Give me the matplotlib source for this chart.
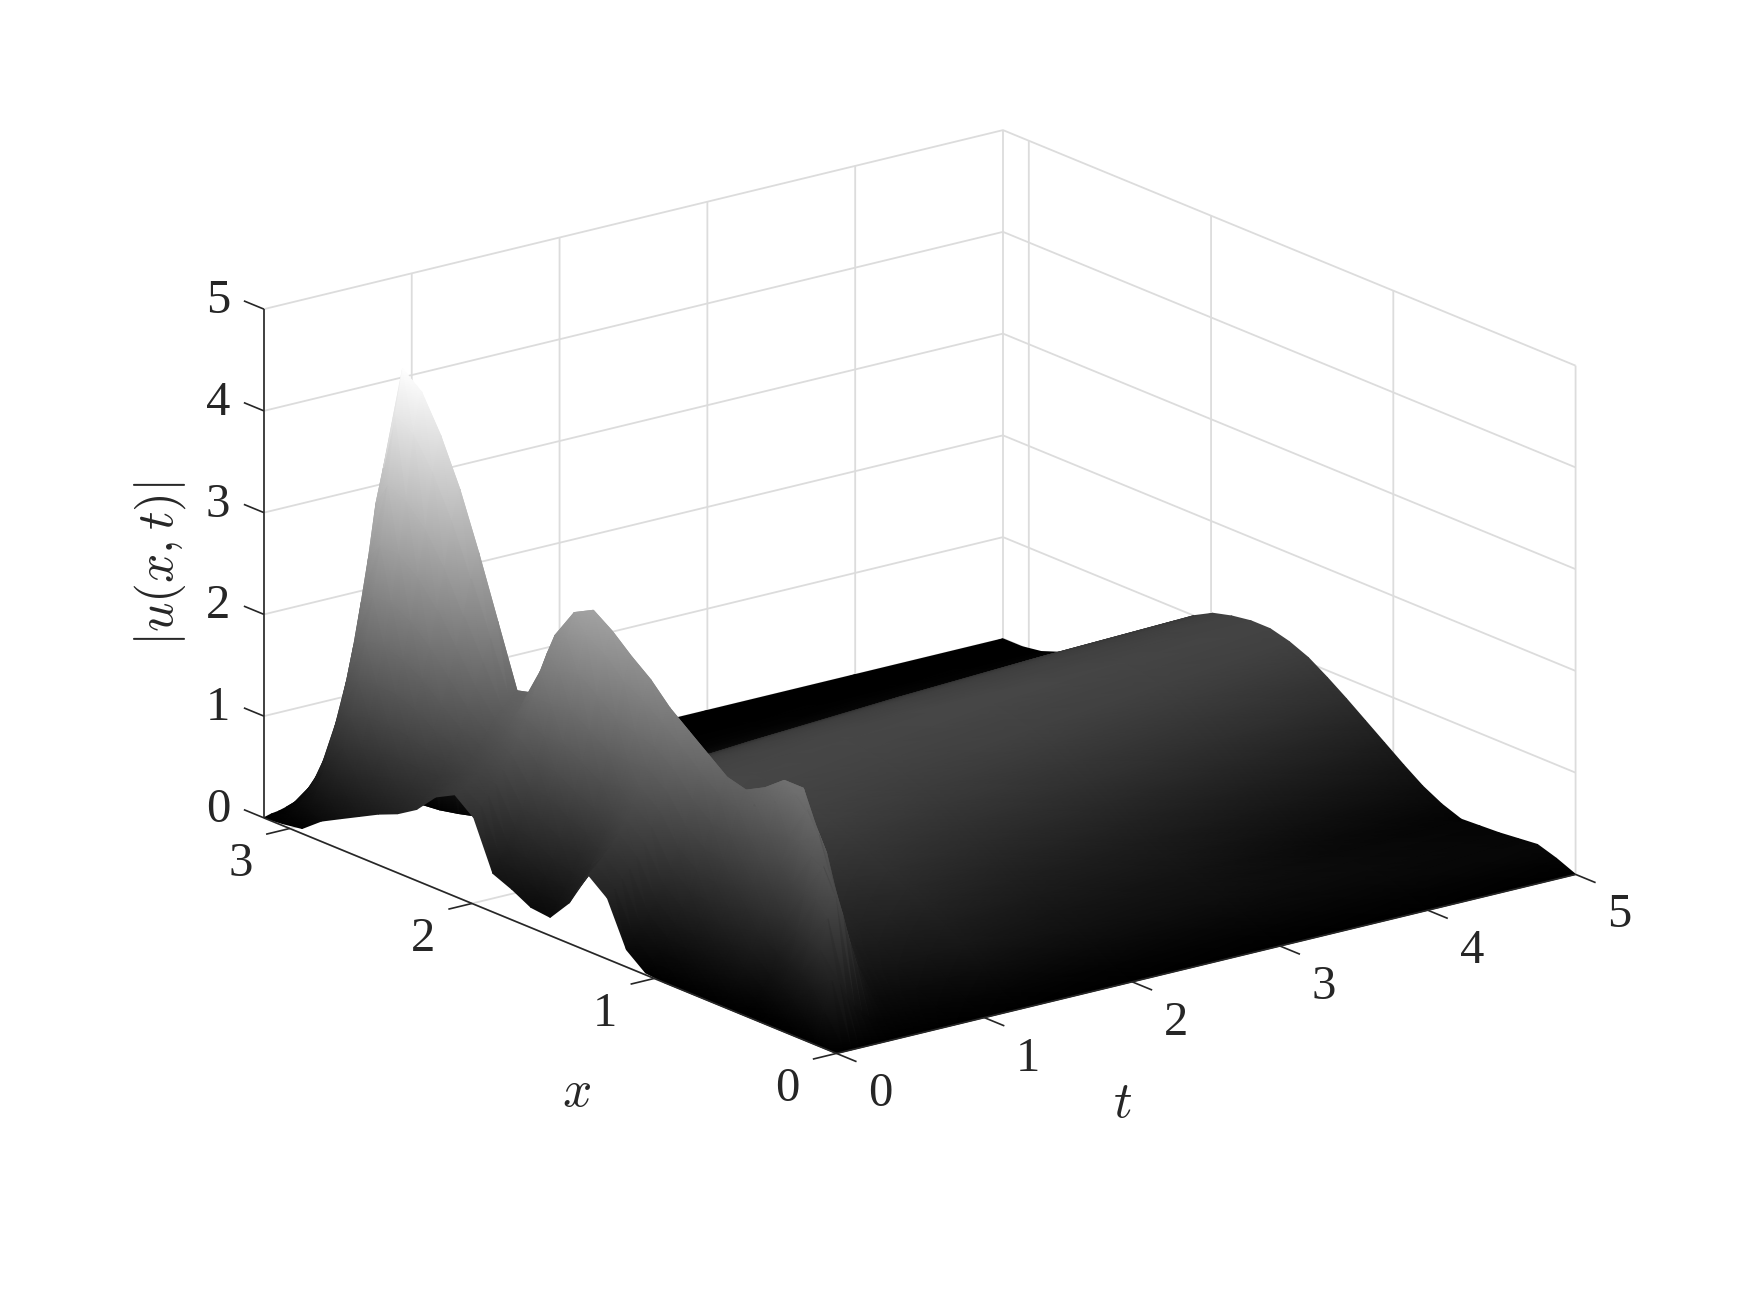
import numpy as np
import matplotlib
matplotlib.use("Agg")
import matplotlib.pyplot as plt
from mpl_toolkits.mplot3d import proj3d

plt.rcParams['font.family'] = ['Liberation Serif', 'DejaVu Serif']
plt.rcParams['mathtext.fontset'] = 'cm'

x_vals = [0, .105, .209, .314, .419, .524, .628, .733, .838, .942, 1.047, 1.152, 1.257, 1.361, 1.466, 1.571,
          1.676, 1.78, 1.885, 1.99, 2.094, 2.199, 2.304, 2.409, 2.513, 2.618, 2.723, 2.827, 2.932, 3.037, 3.142]
t_vals = [0, .05, .1, .15, .2, .25, .3, .35, .4, .45, .5, .55, .6, .65, .7, .8, 1, 1.25, 2, 3, 4, 5]

# |u|, one row per t value, one column per x value
u_rows = [
    [0, 0, 0, 0, 0, 0, 0, 0, 0, 0, .02, .17, .6, .75, .4, .18, .2, .3, .38, .85, 1.0, .9, .7, .58, .5, .4, .3, .2, .05, .02, 0],
    [0, .3, .15, .08, .05, .03, .1, .1, .09, .09, .11, .26, .67, .82, .5, .3, .33, .43, .5, .94, 1.05, .95, .79, .7, .65, .58, .5, .41, .22, .09, .02],
    [0, .6, .45, .25, .15, .1, .2, .2, .18, .17, .19, .34, .75, .9, .6, .42, .46, .56, .62, 1.02, 1.1, 1.0, .87, .82, .8, .76, .7, .62, .39, .16, .03],
    [0, .55, .8, .5, .3, .2, .32, .31, .29, .27, .3, .45, .83, .98, .72, .56, .61, .72, .77, 1.12, 1.16, 1.06, .97, .96, .98, .97, .93, .86, .59, .24, .05],
    [0, .4, 1.1, .8, .5, .3, .46, .45, .41, .39, .42, .57, .93, 1.08, .86, .73, .79, .9, .94, 1.24, 1.23, 1.13, 1.09, 1.13, 1.19, 1.22, 1.21, 1.15, .82, .34, .07],
    [0, .3, 1.3, 1.2, .8, .5, .62, .6, .56, .53, .56, .71, 1.05, 1.2, 1.02, .91, .99, 1.11, 1.13, 1.38, 1.31, 1.21, 1.23, 1.31, 1.43, 1.5, 1.52, 1.49, 1.09, .45, .09],
    [0, .22, 1.1, 1.5, 1.15, .8, .8, .78, .72, .68, .71, .86, 1.18, 1.33, 1.2, 1.13, 1.22, 1.34, 1.35, 1.53, 1.4, 1.3, 1.38, 1.53, 1.7, 1.82, 1.88, 1.86, 1.39, .57, .12],
    [0, .15, .8, 1.4, 1.5, 1.15, 1.0, .98, .9, .85, .89, 1.04, 1.33, 1.48, 1.4, 1.37, 1.48, 1.6, 1.59, 1.7, 1.5, 1.4, 1.55, 1.77, 2.0, 2.18, 2.28, 2.28, 1.73, .71, .15],
    [0, .12, .55, 1.1, 1.7, 1.55, 1.24, 1.2, 1.12, 1.05, 1.09, 1.24, 1.5, 1.65, 1.64, 1.65, 1.78, 1.91, 1.88, 1.9, 1.62, 1.52, 1.75, 2.05, 2.36, 2.6, 2.75, 2.77, 2.13, .88, .19],
    [0, .1, .35, .8, 1.5, 1.85, 1.5, 1.46, 1.35, 1.28, 1.32, 1.47, 1.69, 1.84, 1.9, 1.96, 2.11, 2.25, 2.2, 2.13, 1.72, 1.6, 1.98, 2.36, 2.75, 3.06, 3.26, 3.35, 2.56, 1.06, .23],
    [0, .1, .25, .55, 1.1, 1.7, 1.9, 1.75, 1.62, 1.53, 1.58, 1.73, 1.9, 2.06, 2.2, 2.31, 2.5, 2.62, 2.52, 2.3, 1.72, 1.67, 2.2, 2.71, 3.2, 3.6, 3.9, 4.02, 3.07, 1.26, .27],
    [0, .1, .2, .42, .8, 1.3, 1.95, 1.95, 1.8, 1.7, 1.75, 1.9, 2.05, 2.2, 2.4, 2.55, 2.72, 2.85, 2.75, 2.45, 1.8, 1.75, 2.35, 2.95, 3.5, 3.95, 4.3, 4.45, 3.4, 1.4, .3],
    [0, .1, .2, .38, .6, .95, 1.64, 1.66, 1.58, 1.53, 1.59, 1.71, 1.84, 1.96, 2.11, 2.21, 2.33, 2.4, 2.3, 2.05, 1.55, 1.45, 1.85, 2.29, 2.68, 3.0, 3.22, 3.32, 2.55, 1.05, .23],
    [0, .1, .2, .35, .52, .75, 1.26, 1.32, 1.31, 1.32, 1.39, 1.49, 1.58, 1.68, 1.77, 1.81, 1.87, 1.88, 1.78, 1.59, 1.26, 1.13, 1.3, 1.49, 1.69, 1.84, 1.95, 1.97, 1.54, .63, .14],
    [0, .1, .2, .35, .5, .65, .95, 1.03, 1.08, 1.14, 1.23, 1.3, 1.37, 1.44, 1.48, 1.47, 1.47, 1.42, 1.32, 1.15, .92, .78, .8, .83, .86, .89, .91, .89, .69, .28, .06],
    [0, .1, .2, .35, .5, .6, .7, .8, .9, 1.0, 1.1, 1.15, 1.2, 1.25, 1.25, 1.2, 1.15, 1.05, .95, .8, .65, .5, .4, .3, .2, .12, .07, .03, .01, 0, 0],
    [0, .1, .22, .37, .5, .61, .71, .81, .91, 1.0, 1.09, 1.14, 1.18, 1.22, 1.23, 1.2, 1.16, 1.08, .98, .84, .7, .55, .43, .32, .22, .13, .07, .03, .01, 0, 0],
    [0, .1, .25, .4, .52, .62, .72, .82, .92, 1.0, 1.08, 1.13, 1.17, 1.2, 1.22, 1.2, 1.17, 1.1, 1.0, .88, .74, .6, .47, .35, .24, .15, .08, .04, .01, 0, 0],
    [0, .08, .2, .3, .38, .46, .55, .65, .75, .86, .96, 1.05, 1.12, 1.17, 1.2, 1.22, 1.2, 1.15, 1.07, .95, .82, .68, .54, .41, .29, .18, .1, .05, .02, 0, 0],
    [0, .08, .17, .25, .3, .35, .42, .5, .6, .72, .84, .95, 1.05, 1.13, 1.18, 1.22, 1.22, 1.18, 1.12, 1.02, .9, .76, .62, .48, .35, .23, .13, .06, .02, 0, 0],
    [0, .08, .15, .18, .18, .17, .2, .28, .4, .55, .68, .82, .95, 1.05, 1.13, 1.18, 1.2, 1.18, 1.14, 1.07, .96, .83, .69, .55, .4, .28, .17, .08, .03, 0, 0],
    [0, .08, .14, .12, .1, .09, .08, .15, .25, .38, .52, .66, .8, .93, 1.05, 1.13, 1.18, 1.18, 1.15, 1.1, 1.0, .87, .73, .58, .43, .3, .2, .1, .03, 0, 0],
]

t_ticks = [0, 1, 2, 3, 4, 5]
x_ticks = [0, 1, 2, 3]
u_ticks = [0, 1, 2, 3, 4, 5]
t_max = 5
x_max = np.pi
dark = '#262626'

fig = plt.figure(figsize=(17.5, 13.13), dpi=100)
ax = fig.add_axes([27 / 1750, 47 / 1313, 1, 1], projection='3d')
ax.set_proj_type('ortho')
ax.view_init(elev=18.4, azim=-127.5)
ax.set_box_aspect((834, 842, 480), zoom=1.056)
ax.set_xlim(0, t_max, view_margin=0)
ax.set_ylim(0, x_max, view_margin=0)
ax.set_zlim(0, 5, view_margin=0)
ax.set_xticks(t_ticks)
ax.set_yticks(x_ticks)
ax.set_zticks(u_ticks)
ax.tick_params(color='none', labelcolor='none')

for axis in (ax.xaxis, ax.yaxis, ax.zaxis):
    axis.pane.set_facecolor('white')
    axis.pane.set_edgecolor('none')
    axis.line.set_color('none')
    axis._axinfo['grid'].update(color='#dcdcdc', linewidth=1.3)

fig.canvas.draw()


def to_px(t, x, u):
    # goes through the 3D axes' own projection, returns figure pixels and depth
    tx, ty, tz = proj3d.proj_transform(np.ravel(t), np.ravel(x), np.ravel(u), ax.get_proj())
    px = ax.transData.transform(np.column_stack([tx, ty]))
    return px[:, 0], px[:, 1], tz


# second axes in pixel units, the surface goes here so gouraud shading can be used
over = fig.add_axes([0, 0, 1, 1])
over.set_xlim(0, 1750)
over.set_ylim(0, 1313)
over.axis('off')

T, X = np.meshgrid(t_vals, x_vals, indexing='ij')
U = np.array(u_rows)
sx, sy, depth = to_px(T, X, U)

n_t, n_x = U.shape
tris = []
for i in range(n_t - 1):
    for j in range(n_x - 1):
        a = i * n_x + j
        b = a + 1
        c = a + n_x
        d = c + 1
        tris.append([a, b, d])
        tris.append([a, d, c])
tris = np.array(tris)
# far triangles first
tris = tris[np.argsort(-depth[tris].mean(axis=1))]
over.tripcolor(sx, sy, tris, U.ravel(), shading='gouraud', cmap='gray', vmin=0, vmax=4.45)
over.set_xlim(0, 1750)
over.set_ylim(0, 1313)

# axis lines, ticks and their labels
line_kw = dict(color=dark, lw=1.2, solid_capstyle='butt')
label_kw = dict(fontsize=35, color=dark, ha='center', va='center')

for t0, x0, u0, t1, x1, u1 in [(0, 0, 0, 0, x_max, 0), (0, 0, 0, t_max, 0, 0), (0, x_max, 0, 0, x_max, 5)]:
    lx, ly, _ = to_px([t0, t1], [x0, x1], [u0, u1])
    over.plot(lx, ly, **line_kw)

for val in t_ticks:
    lx, ly, _ = to_px([val, val], [0, -0.11], [0, 0])
    over.plot(lx, ly, **line_kw)
    over.text(lx[0] + 44, ly[0] - 41, str(val), **label_kw)
for val in x_ticks:
    lx, ly, _ = to_px([0, -0.16], [val, val], [0, 0])
    over.plot(lx, ly, **line_kw)
    over.text(lx[0] - 49, ly[0] - 36, str(val), **label_kw)
for val in u_ticks:
    lx, ly, _ = to_px([0, 0], [x_max, x_max + 0.11], [val, val])
    over.plot(lx, ly, **line_kw)
    over.text(lx[0] - 46, ly[0] + 8, str(val), **label_kw)

over.text(577, 1313 - 1094, '$x$', fontsize=37, color=dark, ha='center', va='center')
over.text(1123, 1313 - 1105, '$t$', fontsize=37, color=dark, ha='center', va='center')
over.text(160, 1313 - 564, '$|u(x,t)|$', fontsize=37, color=dark, ha='center', va='center', rotation=90)

fig.savefig('out.png', dpi=100)
